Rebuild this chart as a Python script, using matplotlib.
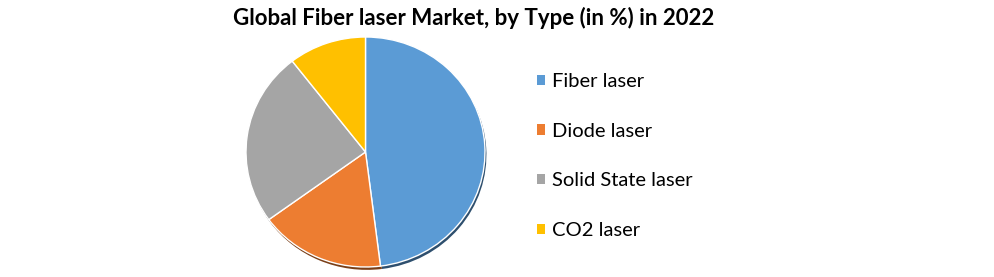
import matplotlib.pyplot as plt
from matplotlib.patches import Patch

types = ["Fiber laser", "Diode laser", "Solid State laser", "CO2 laser"]
shares = [48.0, 17.0, 24.5, 10.5]
colors = ["#5B9BD5", "#ED7D31", "#A5A5A5", "#FFC000"]
shadow_colors = ["#2E4F6E", "#7A3F18", "#555555", "#806000"]

plt.rcParams["font.family"] = ["Lato", "DejaVu Sans"]

W, H = 995, 277
fig = plt.figure(figsize=(W / 100, H / 100), dpi=100)

# pie axes: slightly wider than tall, like the original
ax = fig.add_axes([246 / W, 10 / H, 239 / W, 230 / H])

# dark shadow slightly below the pie
ax.pie(shares, colors=shadow_colors, startangle=90, counterclock=False,
       center=(0.012, -0.025), radius=1.0,
       wedgeprops={"linewidth": 0})
ax.pie(shares, colors=colors, startangle=90, counterclock=False,
       wedgeprops={"edgecolor": "white", "linewidth": 1.0})
ax.set_xlim(-1.0, 1.0)
ax.set_ylim(-1.0, 1.0)
ax.set_aspect("auto")
ax.axis("off")

fig.text(474 / W, 1 - 18 / H, "Global Fiber laser Market, by Type (in %) in 2022",
         ha="center", va="center", fontsize=16, fontweight="bold")

handles = [Patch(facecolor=c, edgecolor="none") for c in colors]
fig.legend(handles, types, loc="upper left", bbox_to_anchor=(537 / W, 1 - 73 / H),
           frameon=False, fontsize=14.5, handlelength=0.4, handleheight=0.4,
           handletextpad=0.35, labelspacing=1.62, borderaxespad=0, borderpad=0)

fig.savefig("out.png", dpi=100)
